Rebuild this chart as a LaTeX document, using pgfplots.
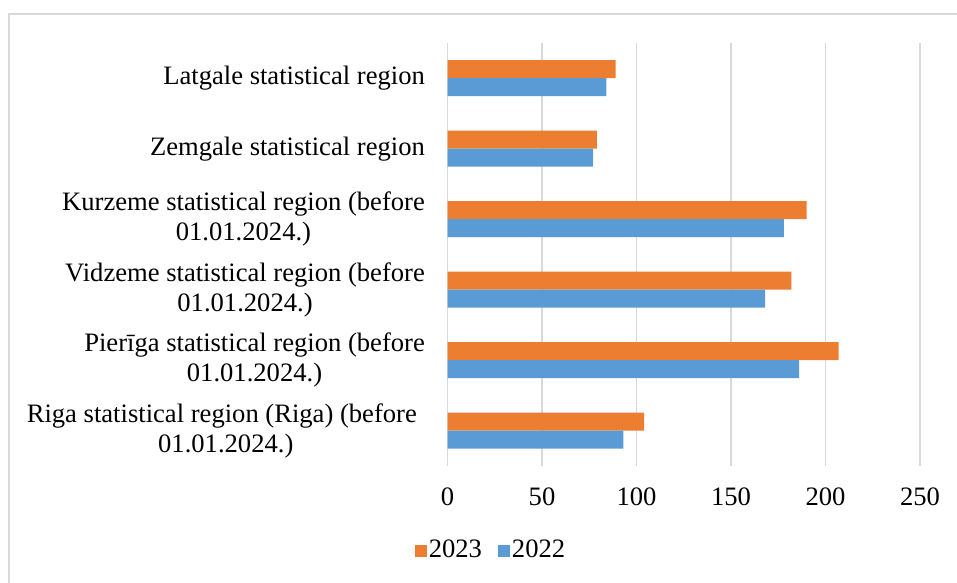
\documentclass[border=0pt]{standalone}
\usepackage{pgfplots}
\pgfplotsset{compat=1.18}
\usepackage{fontspec}
\setmainfont{Liberation Serif}
\definecolor{c23}{HTML}{ED7D31}
\definecolor{c22}{HTML}{5B9BD5}
\definecolor{gridc}{HTML}{D9D9D9}
\begin{document}
\fontsize{26.6bp}{30bp}\selectfont
\begin{tikzpicture}
\draw[gridc, line width=1.5bp] (9bp,-20bp) rectangle (980bp,569bp);
\begin{axis}[
  at={(447.5bp,117bp)}, anchor=south west,
  scale only axis, width=472.5bp, height=423bp,
  xmin=0, xmax=250, ymin=-0.5, ymax=5.5,
  enlargelimits=false,
  xtick={0,50,...,250},
  ytick={0,1,2,3,4,5},
  yticklabels={{Riga statistical region (Riga) (before\hspace*{8bp}\\01.01.2024.)},
    {Pierīga statistical region (before\\01.01.2024.)},
    {Vidzeme statistical region (before\\01.01.2024.)},
    {Kurzeme statistical region (before\\01.01.2024.)},
    {Zemgale statistical region},
    {Latgale statistical region}},
  axis line style={draw=none},
  major tick length=0pt,
  xmajorgrids, grid style={gridc, line width=1.5bp},
  bar width=18bp,
  /pgf/number format/assume math mode=true,
  yticklabel style={align=center, inner sep=0pt, xshift=-22.5bp},
  xticklabel style={anchor=north, inner sep=0pt, yshift=-22bp},
  legend style={at={(0.092,-0.201)}, anchor=center, draw=none, fill=none,
    font=\fontsize{26.6bp}{30bp}\selectfont,
    legend columns=2, /tikz/every even column/.append style={column sep=14bp}},
  legend image code/.code={\fill[#1] (-3bp,-6bp) rectangle (9bp,6bp);},
]
\addplot[xbar, fill=c23, draw=none, bar shift=9bp] coordinates {
  (104,0) (207,1) (182,2) (190,3) (79,4) (89,5)};
\addlegendentry{2023}
\addplot[xbar, fill=c22, draw=none, bar shift=-9bp] coordinates {
  (93,0) (186,1) (168,2) (178,3) (77,4) (84,5)};
\addlegendentry{2022}
\end{axis}
\pgfresetboundingbox
\useasboundingbox (0,0) rectangle (957bp,583bp);
\end{tikzpicture}
\end{document}
